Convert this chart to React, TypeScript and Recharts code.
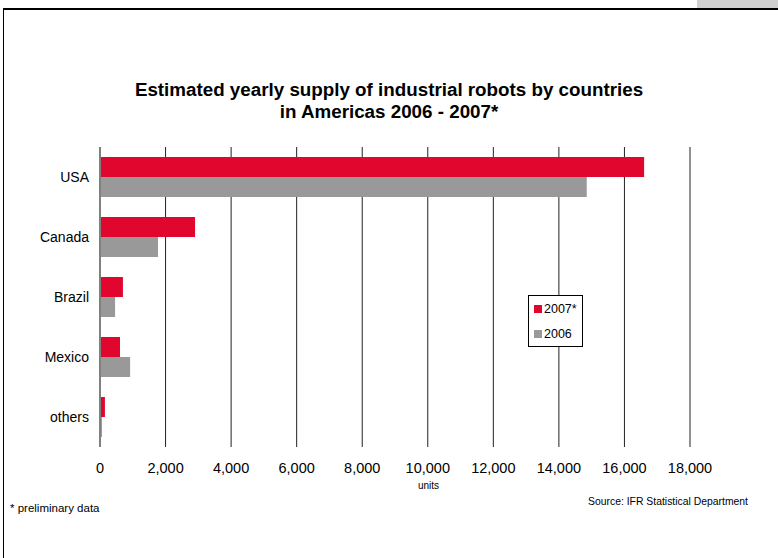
import {
  BarChart,
  Bar,
  XAxis,
  YAxis,
  CartesianGrid,
  Legend,
  ReferenceLine,
} from "recharts";

// values (units)
const countries = ["USA", "Canada", "Brazil", "Mexico", "others"];
const supply2007 = [16600, 2900, 700, 610, 150];
const supply2006 = [14850, 1770, 460, 920, 60];
const xTicks = [0, 2000, 4000, 6000, 8000, 10000, 12000, 14000, 16000, 18000];

const RED = "#E0062E";
const GREY = "#999999";
const FONT = "'Liberation Sans', Arial, sans-serif";

const chartData = countries.map((c, i) => ({
  country: c,
  y2007: supply2007[i],
  y2006: supply2006[i],
}));

const LegendBox = () => (
  <div
    style={{
      width: 55,
      height: 52,
      border: "1px solid #000",
      background: "#fff",
      boxSizing: "border-box",
      fontFamily: FONT,
      fontSize: 12.5,
      color: "#000",
      paddingTop: 5,
    }}
  >
    {[
      { label: "2007*", color: RED },
      { label: "2006", color: GREY },
    ].map((e, i) => (
      <div key={e.label} style={{ display: "flex", alignItems: "center", height: 15, marginTop: i ? 10 : 0, paddingLeft: 5 }}>
        <span style={{ width: 8, height: 8, background: e.color, marginRight: 2 }} />
        {e.label}
      </div>
    ))}
  </div>
);

const App = () => {
  return (
    <div style={{ position: "absolute", left: 0, top: 0, width: 778, height: 558, background: "#fff", fontFamily: FONT }}>
      {/* frame */}
      <div style={{ position: "absolute", left: 697, top: 0, width: 81, height: 8, background: "#d0d0d0" }} />
      <div style={{ position: "absolute", left: 3, top: 8, width: 775, height: 2, background: "#000" }} />
      <div style={{ position: "absolute", left: 3, top: 8, width: 1, height: 550, background: "#000" }} />

      <div
        style={{
          position: "absolute",
          left: 0,
          top: 79,
          width: 778,
          textAlign: "center",
          fontWeight: "bold",
          fontSize: 18.8,
          lineHeight: "22px",
          color: "#000",
        }}
      >
        Estimated yearly supply of industrial robots by countries
        <br />
        in Americas 2006 - 2007*
      </div>

      <div style={{ position: "absolute", left: 0, top: 0 }}>
        <BarChart
          width={778}
          height={558}
          data={chartData}
          layout="vertical"
          margin={{ top: 147, right: 88, bottom: 81, left: 10 }}
          barCategoryGap={10}
          barGap={0}
        >
          <CartesianGrid horizontal={false} vertical={true} stroke="#222" strokeWidth={1} />
          <XAxis
            type="number"
            domain={[0, 18000]}
            ticks={xTicks}
            height={30}
            axisLine={false}
            tickLine={false}
            tickMargin={10}
            tick={{ fill: "#000", fontSize: 14.5, fontFamily: FONT }}
            tickFormatter={(v: number) => v.toLocaleString("en-US")}
          />
          <YAxis
            type="category"
            dataKey="country"
            width={90}
            axisLine={false}
            tickLine={false}
            tickMargin={5}
            tick={{ fill: "#000", fontSize: 14, fontFamily: FONT }}
          />
          <Legend
            layout="vertical"
            align="center"
            verticalAlign="middle"
            content={() => <LegendBox />}
            wrapperStyle={{ left: 528, top: 295, width: 55, height: 52 }}
          />
          <Bar dataKey="y2007" name="2007*" fill={RED} isAnimationActive={false} />
          <Bar dataKey="y2006" name="2006" fill={GREY} isAnimationActive={false} />
          <ReferenceLine x={0} stroke="#808080" strokeWidth={2} />
        </BarChart>
      </div>

      <div style={{ position: "absolute", left: 418, top: 480, fontSize: 10, color: "#000" }}>units</div>
      <div style={{ position: "absolute", right: 30, top: 496, fontSize: 10.4, color: "#000" }}>
        Source: IFR Statistical Department
      </div>
      <div style={{ position: "absolute", left: 10, top: 502, fontSize: 11.5, color: "#000" }}>* preliminary data</div>
    </div>
  );
};

export default App;
